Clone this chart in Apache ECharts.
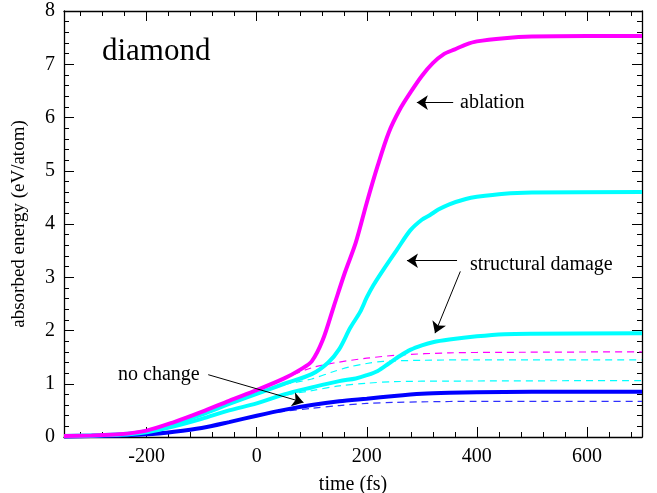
<!DOCTYPE html>
<html>
<head>
<meta charset="utf-8">
<script src="https://cdn.jsdelivr.net/npm/echarts@6/dist/echarts.min.js"></script>
<style>html,body{margin:0;padding:0;background:#fff}#c{width:657px;height:493px}</style>
</head>
<body>
<div id="c"></div>
<script>
// ---- data (time in fs, absorbed energy in eV/atom) ----
var xMajorTicks = [-200, 0, 200, 400, 600];
var xMinorTicks = [-320,-280,-240,-160,-120,-80,-40,40,80,120,160,240,280,320,360,440,480,520,560,640,680];

var tAblation = [-350,-300,-250,-200,-150,-100,-50,0,50,80,100,120,140,160,180,200,220,240,260,280,300,320,340,360,380,400,450,500,600,700];
var eAblation = [0.02,0.03,0.05,0.12,0.28,0.47,0.68,0.88,1.10,1.27,1.42,1.82,2.45,3.08,3.65,4.40,5.10,5.72,6.15,6.48,6.78,7.02,7.19,7.28,7.37,7.43,7.49,7.52,7.53,7.53];

var tDamageHigh = [-350,-300,-250,-200,-150,-100,-50,0,50,100,130,150,170,188,200,212,230,255,279,300,315,330,350,380,400,450,500,700];
var eDamageHigh = [0.02,0.03,0.05,0.11,0.25,0.42,0.62,0.81,1.00,1.18,1.40,1.65,2.05,2.35,2.62,2.85,3.14,3.52,3.88,4.08,4.17,4.27,4.37,4.47,4.51,4.57,4.59,4.60];

var tDamageLow = [-350,-300,-250,-200,-150,-100,-50,0,50,100,150,180,200,220,240,260,280,300,320,350,400,450,500,700];
var eDamageLow = [0.02,0.03,0.04,0.09,0.20,0.34,0.50,0.63,0.80,0.93,1.05,1.10,1.16,1.24,1.38,1.52,1.64,1.72,1.78,1.83,1.89,1.93,1.94,1.95];

var tNoChange = [-350,-300,-250,-200,-150,-100,-50,0,50,100,150,200,250,300,350,400,500,700];
var eNoChange = [0.01,0.02,0.03,0.05,0.10,0.17,0.28,0.40,0.51,0.60,0.67,0.72,0.77,0.81,0.83,0.84,0.85,0.85];

var tAblationDash = [-350,-300,-250,-200,-150,-100,-50,0,50,100,140,200,260,350,450,700];
var eAblationDash = [0.02,0.03,0.05,0.12,0.28,0.47,0.68,0.88,1.10,1.30,1.39,1.48,1.54,1.58,1.59,1.60];

var tDamageHighDash = [-350,-300,-250,-200,-150,-100,-50,0,50,100,140,170,200,230,300,400,700];
var eDamageHighDash = [0.02,0.03,0.05,0.11,0.25,0.42,0.62,0.81,0.98,1.09,1.23,1.32,1.38,1.42,1.44,1.45,1.45];

var tDamageLowDash = [-350,-300,-250,-200,-150,-100,-50,0,50,100,150,200,250,350,700];
var eDamageLowDash = [0.02,0.03,0.04,0.09,0.20,0.34,0.50,0.63,0.78,0.87,0.96,1.01,1.04,1.05,1.06];

var tNoChangeDash = [-350,-300,-250,-200,-150,-100,-50,0,50,100,150,200,250,300,400,700];
var eNoChangeDash = [0.01,0.02,0.03,0.05,0.10,0.17,0.28,0.40,0.48,0.54,0.59,0.63,0.65,0.66,0.67,0.67];

// arrows: [fromT, fromE, toT, toE]
var arrowAblation = [357, 6.28, 291, 6.28];
var arrowDamage1 = [364, 3.31, 273, 3.31];
var arrowDamage2 = [370, 3.11, 324, 1.95];
var arrowNoChange = [-88, 1.17, 85, 0.65];

function pairs(t, e) { return t.map(function (v, i) { return [v, e[i]]; }); }

var FONT = 'Liberation Serif';
var chart = echarts.init(document.getElementById('c'), null, {renderer: 'canvas'});

function xAxisDef(pos, major, showLine, showLabel) {
  return {
    type: 'value', position: pos, min: -350, max: 700,
    axisLine: {show: showLine, onZero: false, lineStyle: {color: '#000', width: 1.3}},
    axisTick: {show: true, inside: true, length: major ? 10 : 5,
      customValues: major ? xMajorTicks : xMinorTicks, lineStyle: {color: '#000', width: 1}},
    axisLabel: {show: showLabel, customValues: xMajorTicks, fontFamily: FONT, fontSize: 20, color: '#000', margin: 10},
    splitLine: {show: false}
  };
}
function yAxisDef(pos, showLabel) {
  return {
    type: 'value', position: pos, min: 0, max: 8, interval: 1,
    axisLine: {show: true, onZero: false, lineStyle: {color: '#000', width: 1.3}},
    axisTick: {show: true, inside: true, length: 10, lineStyle: {color: '#000', width: 1}},
    minorTick: {show: true, splitNumber: 5, length: 5, lineStyle: {color: '#000', width: 1}},
    axisLabel: {show: showLabel, fontFamily: FONT, fontSize: 20, color: '#000', margin: 9},
    splitLine: {show: false}, minorSplitLine: {show: false}
  };
}

var xb = xAxisDef('bottom', true, true, true);
xb.name = 'time (fs)';
xb.nameLocation = 'middle';
xb.nameGap = 38;
xb.nameTextStyle = {fontFamily: FONT, fontSize: 20, color: '#000'};
var yl = yAxisDef('left', true);
yl.name = 'absorbed energy (eV/atom)';
yl.nameLocation = 'middle';
yl.nameGap = 35;
yl.nameTextStyle = {fontFamily: FONT, fontSize: 19, color: '#000'};

function arrow(a) {
  return [{coord: [a[0], a[1]], symbol: 'none'}, {coord: [a[2], a[3]], symbol: 'arrow', symbolSize: 11}];
}

function line(name, t, e, color, dashed) {
  return {
    name: name, type: 'line', data: pairs(t, e), showSymbol: false, smooth: 0.3,
    xAxisIndex: 0, yAxisIndex: 0, silent: true, animation: false,
    lineStyle: dashed ? {color: color, width: 1.2, type: [7, 5]} : {color: color, width: 4},
    z: dashed ? 2 : 3
  };
}

var series = [
  line('ablation-dash', tAblationDash, eAblationDash, '#ff00ff', true),
  line('damageHigh-dash', tDamageHighDash, eDamageHighDash, '#00ffff', true),
  line('damageLow-dash', tDamageLowDash, eDamageLowDash, '#00ffff', true),
  line('noChange-dash', tNoChangeDash, eNoChangeDash, '#3030ff', true),
  line('noChange', tNoChange, eNoChange, '#0000ff', false),
  line('damageLow', tDamageLow, eDamageLow, '#00ffff', false),
  line('damageHigh', tDamageHigh, eDamageHigh, '#00ffff', false),
  line('ablation', tAblation, eAblation, '#ff00ff', false)
];
series.push({
  type: 'line', data: [], xAxisIndex: 0, yAxisIndex: 0, silent: true, animation: false,
  markLine: {
    silent: true, animation: false, symbol: ['none', 'arrow'], symbolSize: 11,
    label: {show: false},
    lineStyle: {color: '#000', width: 1, type: 'solid'},
    emphasis: {disabled: true},
    data: [arrow(arrowAblation), arrow(arrowDamage1), arrow(arrowDamage2), arrow(arrowNoChange)]
  },
  z: 5
});

chart.setOption({
  animation: false,
  backgroundColor: '#fff',
  grid: {left: 64, right: 15, top: 11, bottom: 56, containLabel: false, outerBoundsMode: 'none'},
  xAxis: [xb, xAxisDef('bottom', false, false, false), xAxisDef('top', true, true, false), xAxisDef('top', false, false, false)],
  yAxis: [yl, yAxisDef('right', false)],
  series: series,
  graphic: [
    {type: 'text', style: {x: 102, y: 52, text: 'diamond', font: '31px "Liberation Serif"', fill: '#000', textVerticalAlign: 'middle'}},
    {type: 'text', style: {x: 460, y: 103, text: 'ablation', font: '20px "Liberation Serif"', fill: '#000', textVerticalAlign: 'middle'}},
    {type: 'text', style: {x: 470, y: 265, text: 'structural damage', font: '20px "Liberation Serif"', fill: '#000', textVerticalAlign: 'middle'}},
    {type: 'text', style: {x: 118, y: 375, text: 'no change', font: '20px "Liberation Serif"', fill: '#000', textVerticalAlign: 'middle'}}
  ]
});
</script>
</body>
</html>
